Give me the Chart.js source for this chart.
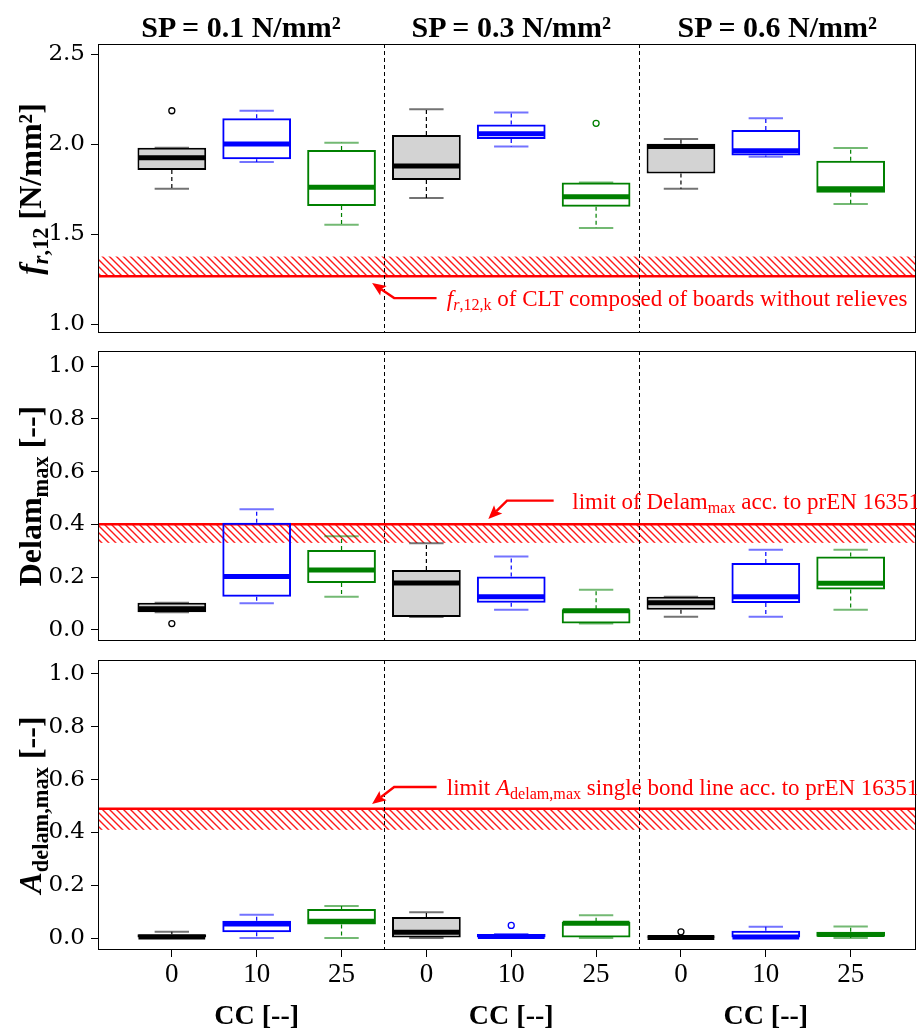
<!DOCTYPE html>
<html>
<head>
<meta charset="utf-8">
<script src="https://cdn.jsdelivr.net/npm/chart.js@4.4.1/dist/chart.umd.min.js"></script>
<style>
  body { margin: 0; background: #fff; }
  #wrap { position: relative; width: 917px; height: 1032px; overflow: hidden;
          font-family: 'Liberation Serif', 'Times New Roman', serif; }
  canvas { position: absolute; left: 0; top: 0; }
  .txt { position: absolute; white-space: nowrap; line-height: 1; }
  .head { font-weight: bold; font-size: 30px; top: 12px; transform: translateX(-50%); }
  .cc { font-weight: bold; font-size: 28px; top: 1001px; transform: translateX(-50%); }
  .ytitle { font-weight: bold; font-size: 32px; transform: translate(-50%, -50%) rotate(-90deg); }
  .note { color: #FF0000; font-size: 23px; transform: translateY(-50%); }
  sub { font-size: 70%; vertical-align: -0.3em; line-height: 0; }
</style>
</head>
<body>
<div id="wrap">
  <canvas id="c1" width="917" height="1032"></canvas>
  <canvas id="c2" width="917" height="1032"></canvas>
  <canvas id="c3" width="917" height="1032"></canvas>
</div>
<script>
// ---- data ----
const spTitles = ['SP = 0.1 N/mm²', 'SP = 0.3 N/mm²', 'SP = 0.6 N/mm²'];
const ccLabels = ['0', '10', '25'];
const boxColors = ['#000000', '#0000FF', '#008000'];
const boxFills = ['#D3D3D3', 'rgba(0,0,0,0)', 'rgba(0,0,0,0)'];

// f_r,12 [N/mm²]  (order: SP0.1 CC0,10,25 | SP0.3 ... | SP0.6 ...)
const frLow  = [1.752, 1.900, 1.552, 1.700, 1.987, 1.533, 1.752, 1.930, 1.667];
const frQ1   = [1.856, 1.915, 1.656, 1.800, 2.028, 1.652, 1.837, 1.937, 1.730];
const frMed  = [1.924, 2.000, 1.760, 1.878, 2.057, 1.707, 1.987, 1.963, 1.752];
const frQ3   = [1.980, 2.144, 1.967, 2.050, 2.109, 1.787, 2.002, 2.078, 1.907];
const frHigh = [1.980, 2.185, 2.007, 2.194, 2.176, 1.787, 2.028, 2.143, 1.978];
const frOut  = [[2.185], [], [], [], [], [2.115], [], [], []];
const frTicks = [1.0, 1.5, 2.0, 2.5];
const frLimit = 1.265, frBand = 1.375;

// Delam_max [--]
const dlLow  = [0.067, 0.101, 0.126, 0.049, 0.076, 0.024, 0.050, 0.050, 0.076];
const dlQ1   = [0.067, 0.126, 0.178, 0.049, 0.103, 0.024, 0.076, 0.102, 0.153];
const dlMed  = [0.080, 0.202, 0.227, 0.178, 0.126, 0.073, 0.103, 0.126, 0.177];
const dlQ3   = [0.103, 0.406, 0.303, 0.227, 0.202, 0.078, 0.126, 0.254, 0.278];
const dlHigh = [0.103, 0.457, 0.355, 0.328, 0.278, 0.152, 0.126, 0.304, 0.304];
const dlOut  = [[0.024], [], [], [], [], [], [], [], []];
const dlTicks = [0.0, 0.2, 0.4, 0.6, 0.8, 1.0];
const dlLimit = 0.40, dlBand = 0.33;

// A_delam,max [--]
const adLow  = [0.000, 0.000, 0.000, 0.000, 0.000, 0.000, 0.000, 0.000, 0.000];
const adQ1   = [0.000, 0.022, 0.052, 0.000, 0.000, 0.000, 0.000, 0.000, 0.005];
const adMed  = [0.004, 0.053, 0.064, 0.022, 0.006, 0.056, 0.002, 0.004, 0.014];
const adQ3   = [0.015, 0.066, 0.110, 0.080, 0.016, 0.062, 0.006, 0.028, 0.024];
const adHigh = [0.024, 0.088, 0.122, 0.098, 0.016, 0.087, 0.006, 0.043, 0.044];
const adOut  = [[], [], [], [], [0.048], [], [0.024], [], []];
const adTicks = [0.0, 0.2, 0.4, 0.6, 0.8, 1.0];
const adLimit = 0.49, adBand = 0.41;

// ---- helpers ----
function hatchPattern(ctx) {
  const s = 7;
  const c = document.createElement('canvas');
  c.width = s; c.height = s;
  const g = c.getContext('2d');
  g.strokeStyle = 'rgba(255,0,0,0.9)';
  g.lineWidth = 1.4;
  g.beginPath();
  g.moveTo(0, 0); g.lineTo(s, s);
  g.moveTo(-2, s - 2); g.lineTo(2, s + 2);
  g.moveTo(s - 2, -2); g.lineTo(s + 2, 2);
  g.stroke();
  return ctx.createPattern(c, 'repeat');
}

function alpha(hex, a) {
  const n = parseInt(hex.slice(1), 16);
  return `rgba(${n >> 16},${(n >> 8) & 255},${n & 255},${a})`;
}

// whiskers, medians, limit band, dividers, frame and arrow
const boxExtras = {
  id: 'boxExtras',
  beforeDatasetsDraw(chart, args, o) {
    const { ctx, chartArea: a, scales: { y } } = chart;
    const y1 = y.getPixelForValue(o.limit), y2 = y.getPixelForValue(o.band);
    ctx.save();
    ctx.fillStyle = hatchPattern(ctx);
    ctx.fillRect(a.left, Math.min(y1, y2), a.width, Math.abs(y2 - y1));
    ctx.strokeStyle = '#FF0000';
    ctx.lineWidth = 2.5;
    ctx.beginPath(); ctx.moveTo(a.left, y1); ctx.lineTo(a.right, y1); ctx.stroke();
    ctx.restore();
  },
  afterDatasetsDraw(chart, args, o) {
    const { ctx, chartArea: a, scales: { x, y } } = chart;
    const bars = chart.getDatasetMeta(0).data;
    ctx.save();
    bars.forEach((bar, i) => {
      const col = boxColors[i % 3];
      const w = bar.width, cx = bar.x;
      const yq1 = y.getPixelForValue(o.q1[i]), yq3 = y.getPixelForValue(o.q3[i]);
      const ylo = y.getPixelForValue(o.low[i]), yhi = y.getPixelForValue(o.high[i]);
      // whiskers
      ctx.strokeStyle = col; ctx.lineWidth = 1.2; ctx.setLineDash([4, 3]);
      ctx.beginPath();
      if (yhi < yq3) { ctx.moveTo(cx, yq3); ctx.lineTo(cx, yhi); }
      if (ylo > yq1) { ctx.moveTo(cx, yq1); ctx.lineTo(cx, ylo); }
      ctx.stroke();
      ctx.setLineDash([]);
      // caps
      ctx.strokeStyle = alpha(col, 0.55); ctx.lineWidth = 2;
      ctx.beginPath();
      ctx.moveTo(cx - w / 4, yhi); ctx.lineTo(cx + w / 4, yhi);
      ctx.moveTo(cx - w / 4, ylo); ctx.lineTo(cx + w / 4, ylo);
      ctx.stroke();
      // median
      const ym = y.getPixelForValue(o.med[i]);
      ctx.strokeStyle = col; ctx.lineWidth = 5;
      ctx.beginPath(); ctx.moveTo(cx - w / 2 + 1, ym); ctx.lineTo(cx + w / 2 - 1, ym); ctx.stroke();
    });
    // group dividers
    ctx.strokeStyle = '#000'; ctx.lineWidth = 1; ctx.setLineDash([4, 3]);
    [1, 2].forEach(g => {
      const px = Math.round(x.getPixelForValue(g * 3 + 0.5)) + 0.5;
      ctx.beginPath(); ctx.moveTo(px, a.top); ctx.lineTo(px, a.bottom); ctx.stroke();
    });
    ctx.setLineDash([]);
    // frame
    ctx.strokeStyle = '#000'; ctx.lineWidth = 1;
    ctx.strokeRect(a.left + 0.5, a.top + 0.5, a.width - 1, a.height - 1);
    // arrow to the limit line
    const n = o.note;
    const tip = [x.getPixelForValue(n.tip[0]), y.getPixelForValue(n.tip[1])];
    const elb = [x.getPixelForValue(n.elbow[0]), y.getPixelForValue(n.elbow[1])];
    const end = [x.getPixelForValue(n.end[0]), y.getPixelForValue(n.end[1])];
    const ang = Math.atan2(tip[1] - elb[1], tip[0] - elb[0]);
    const hl = 15, hw = 0.4;
    const base = [tip[0] - (hl - 4) * Math.cos(ang), tip[1] - (hl - 4) * Math.sin(ang)];
    ctx.strokeStyle = '#FF0000'; ctx.fillStyle = '#FF0000'; ctx.lineWidth = 2.4;
    ctx.beginPath(); ctx.moveTo(end[0], end[1]); ctx.lineTo(elb[0], elb[1]); ctx.lineTo(base[0], base[1]); ctx.stroke();
    ctx.beginPath();
    ctx.moveTo(tip[0], tip[1]);
    ctx.lineTo(tip[0] - hl * Math.cos(ang - hw), tip[1] - hl * Math.sin(ang - hw));
    ctx.lineTo(base[0], base[1]);
    ctx.lineTo(tip[0] - hl * Math.cos(ang + hw), tip[1] - hl * Math.sin(ang + hw));
    ctx.closePath(); ctx.fill();
    ctx.restore();
  }
};

function makePanel(id, p) {
  const boxes = {
    type: 'bar',
    data: p.q1.map((v, i) => ({ x: i + 1, y: [v, p.q3[i]] })),
    backgroundColor: p.q1.map((_, i) => boxFills[i % 3]),
    borderColor: p.q1.map((_, i) => boxColors[i % 3]),
    borderWidth: 2,
    borderSkipped: false,
    barPercentage: 1,
    categoryPercentage: 0.81,
    order: 2
  };
  const outPts = [], outCols = [];
  p.out.forEach((vals, i) => vals.forEach(v => { outPts.push({ x: i + 1, y: v }); outCols.push(boxColors[i % 3]); }));
  const outliers = {
    type: 'scatter', data: outPts, pointRadius: 3, pointBorderWidth: 1.3,
    pointBackgroundColor: '#fff', pointBorderColor: outCols, showLine: false, order: 1
  };
  return new Chart(document.getElementById(id), {
    type: 'bar',
    data: { datasets: [boxes, outliers] },
    plugins: [boxExtras],
    options: {
      responsive: false, animation: false, events: [],
      layout: { autoPadding: false, padding: { left: 0, right: 1, top: p.top, bottom: p.bottom } },
      plugins: {
        legend: { display: false }, tooltip: { enabled: false },
        boxExtras: {
          low: p.low, q1: p.q1, med: p.med, q3: p.q3, high: p.high,
          limit: p.limit, band: p.band, note: p.note
        }
      },
      scales: {
        x: {
          type: 'linear', min: 0.13, max: 9.77, display: p.showX, offset: false,
          afterBuildTicks: s => { s.ticks = p.q1.map((_, i) => ({ value: i + 1 })); },
          afterFit: s => { if (p.showX) s.height = 82; },
          grid: { offset: false, drawOnChartArea: false, drawTicks: true, tickLength: 7, color: '#000' },
          border: { display: false },
          ticks: {
            color: '#000', padding: 2, maxRotation: 0, autoSkip: false,
            font: { family: "'Liberation Serif', serif", size: 27 },
            callback: (v, i) => ccLabels[i % 3]
          }
        },
        y: {
          min: p.range[0], max: p.range[1],
          afterBuildTicks: s => { s.ticks = p.ticks.map(v => ({ value: v })); },
          afterFit: s => { s.width = 98; },
          grid: { drawOnChartArea: false, drawTicks: true, tickLength: 7, color: '#000' },
          border: { display: false },
          ticks: {
            color: '#000', padding: 6,
            font: { family: "'DejaVu Serif', serif", size: 23 },
            callback: v => Number(v).toFixed(1)
          }
        }
      }
    }
  });
}

const panels = [
  makePanel('c1', {
    low: frLow, q1: frQ1, med: frMed, q3: frQ3, high: frHigh, out: frOut,
    ticks: frTicks, range: [0.95, 2.556], limit: frLimit, band: frBand,
    top: 44, bottom: 1032 - 333, showX: false,
    note: { tip: [3.36, 1.228], elbow: [3.62, 1.144], end: [4.12, 1.144], text: [4.24, 1.144] }
  }),
  makePanel('c2', {
    low: dlLow, q1: dlQ1, med: dlMed, q3: dlQ3, high: dlHigh, out: dlOut,
    ticks: dlTicks, range: [-0.042, 1.057], limit: dlLimit, band: dlBand,
    top: 351, bottom: 1032 - 641, showX: false,
    note: { tip: [4.73, 0.42], elbow: [4.95, 0.49], end: [5.5, 0.49], text: [5.72, 0.49] }
  }),
  makePanel('c3', {
    low: adLow, q1: adQ1, med: adMed, q3: adQ3, high: adHigh, out: adOut,
    ticks: adTicks, range: [-0.045, 1.053], limit: adLimit, band: adBand,
    top: 660, bottom: 0, showX: true,
    note: { tip: [3.36, 0.508], elbow: [3.62, 0.572], end: [4.12, 0.572], text: [4.24, 0.572] }
  })
];

// ---- text overlays (positions taken from the chart scales) ----
const wrap = document.getElementById('wrap');
function addText(cls, html, left, top) {
  const d = document.createElement('div');
  d.className = 'txt ' + cls;
  d.innerHTML = html;
  d.style.left = left + 'px';
  d.style.top = top + 'px';
  wrap.appendChild(d);
  return d;
}

const xs = panels[2].scales.x;
spTitles.forEach((t, g) => {
  const lo = g === 0 ? xs.min : g * 3 + 0.5;
  const hi = g === 2 ? xs.max : g * 3 + 3.5;
  addText('head', t, (xs.getPixelForValue(lo) + xs.getPixelForValue(hi)) / 2, 12);
  addText('cc', 'CC [--]', xs.getPixelForValue(g * 3 + 2), 1001);
});

const yTitles = [
  '<i>f</i><sub><i>r</i>,12</sub> [N/mm²]',
  'Delam<sub>max</sub> [--]',
  '<i>A</i><sub>delam,max</sub> [--]'
];
const noteTexts = [
  '<i>f</i><sub><i>r</i>,12,k</sub> of CLT composed of boards without relieves',
  'limit of Delam<sub>max</sub> acc. to prEN 16351',
  'limit <i>A</i><sub>delam,max</sub> single bond line acc. to prEN 16351'
];
panels.forEach((ch, k) => {
  const a = ch.chartArea;
  addText('ytitle', yTitles[k], 30, (a.top + a.bottom) / 2);
  const n = ch.options.plugins.boxExtras.note;
  addText('note', noteTexts[k], ch.scales.x.getPixelForValue(n.text[0]), ch.scales.y.getPixelForValue(n.text[1]));
});
</script>
</body>
</html>
